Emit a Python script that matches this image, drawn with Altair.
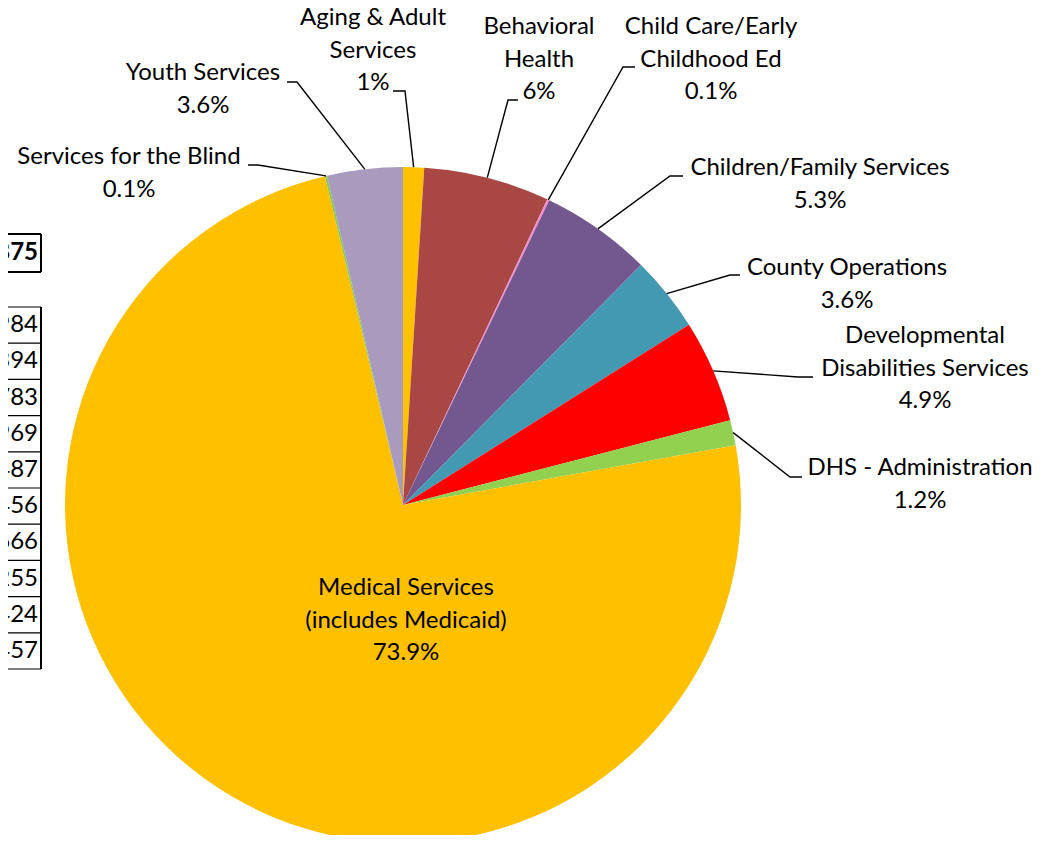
import math
import altair as alt
import pandas as pd

# ---------------- data ----------------
categories = [
    "Aging & Adult Services", "Behavioral Health", "Child Care/Early Childhood Ed",
    "Children/Family Services", "County Operations", "Developmental Disabilities Services",
    "DHS - Administration", "Medical Services (includes Medicaid)",
    "Services for the Blind", "Youth Services",
]
shares = [1.0, 6.0, 0.1, 5.3, 3.6, 4.9, 1.2, 73.9, 0.1, 3.6]
share_text = ["1%", "6%", "0.1%", "5.3%", "3.6%", "4.9%", "1.2%", "73.9%", "0.1%", "3.6%"]
label_lines = [
    ["Aging & Adult", "Services"],
    ["Behavioral", "Health"],
    ["Child Care/Early", "Childhood Ed"],
    ["Children/Family Services"],
    ["County Operations"],
    ["Developmental", "Disabilities Services"],
    ["DHS - Administration"],
    ["Medical Services", "(includes Medicaid)"],
    ["Services for the Blind"],
    ["Youth Services"],
]
# partial table visible at left edge of the picture
table_top_value = "875"
table_values = ["984", "394", "783", "969", "487", "456", "666", "255", "424", "457"]

# ---------------- styles / layout ----------------
colors = ["#FFC000", "#A94745", "#F58AD0", "#72588F", "#4399B1",
          "#FF0000", "#92D050", "#FFC000", "#8CC850", "#A99BBE"]
FONT = "Lato"
FS = 24
LH = 32.5
CX, CY, R = 395, 497, 338
W, H = 1026, 827

# label block: center x, first line center y (chart px)
label_x = [365, 531, 703, 812, 839, 917, 912, 398, 121, 195]
label_y0 = [10, 19, 19, 160, 260, 328, 460, 580, 149, 65]
# leader: elbow point and end point (chart px); None for inside label
leader_elbow = [(397, 83), (500, 92), (615, 59), (662, 168), (722, 267), (790, 369),
                (782, 469), None, (250, 157), (289, 74)]
leader_end = [(385, 83), (510, 92), (627, 59), (675, 168), (732, 267), (805, 369),
              (794, 469), None, (240, 157), (279, 74)]

pie_df = pd.DataFrame({"name": categories, "value": shares, "idx": list(range(len(categories)))})

total = sum(shares)
rows_text = []
rows_lead = []
cum = 0.0
for i, v in enumerate(shares):
    mid = (cum + v / 2) / total * 2 * math.pi
    cum += v
    lines = label_lines[i] + [share_text[i]]
    for j, t in enumerate(lines):
        rows_text.append({"t": t, "x": label_x[i], "y": label_y0[i] + j * LH})
    if leader_elbow[i] is not None:
        rx = CX + R * math.sin(mid)
        ry = CY - R * math.cos(mid)
        pts = [(rx, ry), leader_elbow[i], leader_end[i]]
        for k, (px, py) in enumerate(pts):
            rows_lead.append({"g": categories[i], "k": k, "x": px, "y": py})

text_df = pd.DataFrame(rows_text)
lead_df = pd.DataFrame(rows_lead)

# table fragment geometry
tbl_right = 33
tbl_top, tbl_bot = 299, 661
row_h = (tbl_bot - tbl_top) / len(table_values)
tbl_rows = pd.DataFrame({
    "t": table_values,
    "y": [tbl_top + (i + 0.5) * row_h for i in range(len(table_values))],
})
tbl_hlines = pd.DataFrame({"y": [tbl_top + i * row_h for i in range(len(table_values) + 1)]})
box_df = pd.DataFrame({"t": [table_top_value], "y": [245]})
box_h = pd.DataFrame({"y": [226, 264]})

pie = alt.Chart(pie_df).mark_arc(outerRadius=R, strokeWidth=0).encode(
    theta=alt.Theta("value:Q", stack=True),
    color=alt.Color("name:N", scale=alt.Scale(domain=categories, range=colors), legend=None),
    order=alt.Order("idx:Q"),
    x=alt.value(CX),
    y=alt.value(CY),
)

leaders = alt.Chart(lead_df).mark_line(color="black", strokeWidth=1.4).encode(
    x=alt.X("x:Q", scale=None, axis=None),
    y=alt.Y("y:Q", scale=None, axis=None),
    detail="g:N",
    order="k:Q",
)

labels = alt.Chart(text_df).mark_text(font=FONT, fontSize=FS, color="black",
                                      align="center", baseline="middle").encode(
    x=alt.X("x:Q", scale=None), y=alt.Y("y:Q", scale=None), text="t:N")

tbl_text = alt.Chart(tbl_rows).mark_text(font=FONT, fontSize=FS, color="black",
                                         align="right", baseline="middle").encode(
    x=alt.value(tbl_right - 3), y=alt.Y("y:Q", scale=None), text="t:N")
tbl_h = alt.Chart(tbl_hlines).mark_rule(color="black", strokeWidth=1.2).encode(
    x=alt.value(0), x2=alt.value(tbl_right), y=alt.Y("y:Q", scale=None))
tbl_v = alt.Chart(pd.DataFrame({"a": [0]})).mark_rule(color="black", strokeWidth=2).encode(
    x=alt.value(tbl_right), y=alt.value(tbl_top), y2=alt.value(tbl_bot))

box_text = alt.Chart(box_df).mark_text(font=FONT, fontSize=FS, fontWeight="bold", color="black",
                                       align="right", baseline="middle").encode(
    x=alt.value(tbl_right - 3), y=alt.Y("y:Q", scale=None), text="t:N")
box_hl = alt.Chart(box_h).mark_rule(color="black", strokeWidth=2).encode(
    x=alt.value(0), x2=alt.value(tbl_right), y=alt.Y("y:Q", scale=None))
box_v = alt.Chart(pd.DataFrame({"a": [0]})).mark_rule(color="black", strokeWidth=2).encode(
    x=alt.value(tbl_right), y=alt.value(226), y2=alt.value(264))

chart = alt.layer(pie, leaders, labels, tbl_text, tbl_h, tbl_v, box_text, box_hl, box_v).properties(
    width=W, height=H, padding=0, autosize=alt.AutoSizeParams(type="none"),
    background="white",
).configure_view(stroke=None)

chart.save("out.html", embed_options={"renderer": "svg", "actions": False})
